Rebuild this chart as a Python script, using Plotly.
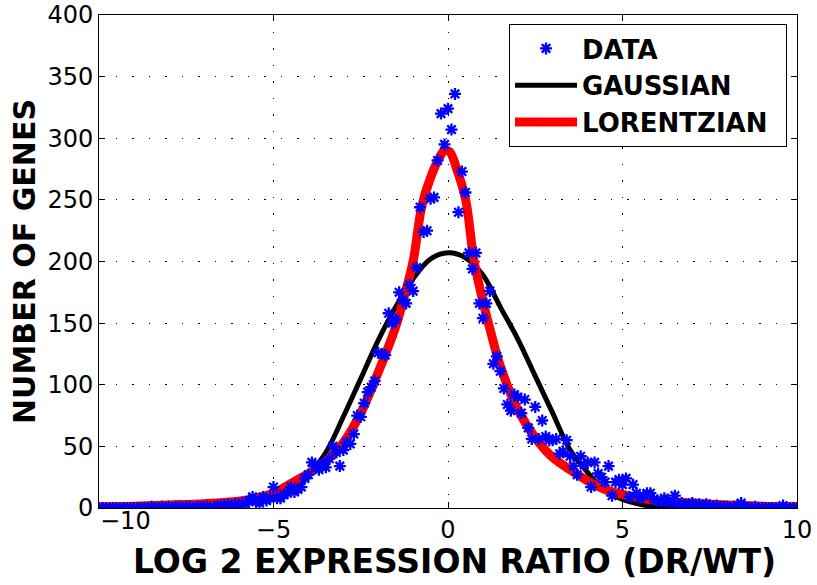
import numpy as np
import plotly.graph_objects as go

# ---- data ----
data_x = [round(v / 10, 1) for v in range(-100, 101)]
data_y = [
    0, 0, 0, 0, 0, 0, 0, 0, 0, 0,          # -10.0 .. -9.1
    0, 0, 0, 0, 0, 1, 0, 0, 1, 0,          # -9.0 .. -8.1
    1, 0, 1, 1, 0, 1, 1, 0, 1, 1,          # -8.0 .. -7.1
    1, 1, 0, 1, 2, 2, 1, 3, 2, 3,          # -7.0 .. -6.1
    2, 4, 3, 6, 9, 5, 4, 9, 6, 8,          # -6.0 .. -5.1
    17, 8, 8, 11, 12, 17, 13, 15, 17, 24,  # -5.0 .. -4.1
    27, 37, 34, 31, 36, 33, 40, 50, 45, 34,  # -4.0 .. -3.1
    47, 53, 52, 60, 75, 74, 85, 94, 98, 103,  # -3.0 .. -2.1
    126, 125, 124, 158, 150, 153, 175, 169, 166, 181,  # -2.0 .. -1.1
    176, 195, 244, 224, 225, 251, 252, 282, 320, 295,  # -1.0 .. -0.1
    324, 307, 336, 240, 273, 256, 207, 194, 207, 166,  # 0.0 .. 0.9
    154, 166, 176, 117, 123, 111, 97, 84, 79, 92,      # 1.0 .. 1.9
    90, 77, 88, 65, 56, 82, 56, 71, 58, 55,            # 2.0 .. 2.9
    55, 56, 44, 46, 55, 42, 34, 27, 42, 35,            # 3.0 .. 3.9
    37, 17, 37, 28, 25, 21, 34, 10, 21, 23,            # 4.0 .. 4.9
    19, 24, 9, 19, 12, 8, 10, 12, 12, 7,               # 5.0 .. 5.9
    6, 5, 8, 5, 4, 10, 3, 4, 2, 3,                     # 6.0 .. 6.9
    4, 2, 3, 1, 3, 2, 1, 2, 0, 1,                      # 7.0 .. 7.9
    1, 0, 1, 2, 4, 1, 0, 0, 1, 0,                      # 8.0 .. 8.9
    0, 0, 0, 0, 0, 0, 2, 0, 0, 0,                      # 9.0 .. 9.9
    0,                                                 # 10.0
]

gauss_x = [-10, -9.5, -9, -8.5, -8, -7.5, -7, -6.5, -6, -5.5, -5, -4.5, -4, -3.5, -3,
           -2.5, -2, -1.5, -1, -0.5, 0, 0.5, 1, 1.5, 2, 2.5, 3, 3.5, 4, 4.5, 5, 5.5,
           6, 6.5, 7, 7.5, 8, 8.5, 9, 9.5, 10]
gauss_y = [0, 0, 0, 0, 0.2, 0.4, 1, 2, 3.5, 6, 7, 14, 27, 45, 74,
           105, 136, 163, 186, 202, 207, 203, 189, 163, 137, 107, 77, 47, 29, 14, 7, 3,
           1, 0.3, 0, 0, 0, 0, 0, 0, 0]

lor_x = [-10, -9, -8, -7, -6, -5.5, -5, -4.5, -4, -3.5, -3, -2.5, -2, -1.5, -1.25, -1,
         -0.75, -0.5, -0.25, -0.1, 0.05, 0.25, 0.5, 0.75, 1, 1.25, 1.5, 2, 2.5, 3, 3.5,
         4, 4.5, 5, 5.5, 6, 7, 8, 9, 10]
lor_y = [1, 1.5, 2.5, 3.5, 5.5, 8, 12, 20, 28, 38, 53, 77, 110, 147, 172, 200,
         245, 268, 284, 290, 289, 275, 251, 200, 168, 140, 115, 80, 57, 41, 31,
         22, 15, 11, 8, 6, 4, 2.5, 1.5, 1]

x_ticks = [-10, -5, 0, 5, 10]
x_tick_text = ["", "\u22125", "0", "5", "10"]
first_x_label = "\u221210"
y_ticks = [0, 50, 100, 150, 200, 250, 300, 350, 400]

X_TITLE = "LOG 2 EXPRESSION RATIO (DR/WT)"
Y_TITLE = "NUMBER OF GENES"

FONT = "DejaVu Sans, Arial, sans-serif"
PAD = "\u2002"

fig = go.Figure()
fig.add_trace(go.Scatter(
    x=gauss_x, y=gauss_y, mode="lines", name="GAUSSIAN" + PAD, legendgroup="g",
    legendrank=2, line=dict(color="black", width=5, shape="spline"),
))
fig.add_trace(go.Scatter(
    x=lor_x, y=lor_y, mode="lines", name="LORENTZIAN" + PAD, legendgroup="l",
    legendrank=3, line=dict(color="#ff0000", width=9, shape="spline"),
))
fig.add_trace(go.Scatter(
    x=data_x, y=data_y, mode="markers", name="DATA" + PAD, legendgroup="d",
    legendrank=1,
    marker=dict(symbol="asterisk-open", size=10, color="#0000ff",
                line=dict(color="#0000ff", width=2.3)),
))

axis_common = dict(
    showline=True, linecolor="black", linewidth=1, mirror="ticks",
    ticks="inside", ticklen=6, tickcolor="black",
    showgrid=True, gridcolor="black", gridwidth=1, griddash="1.5px,15px",
    zeroline=False, automargin=False,
    tickfont=dict(family=FONT, size=24, color="black"),
)

fig.update_xaxes(range=[-10, 10], tickvals=x_ticks, ticktext=x_tick_text,
                 **axis_common)
fig.update_yaxes(
    range=[0, 400], tickvals=y_ticks,
    title=dict(text=Y_TITLE,
               font=dict(family=FONT, size=30, color="black", weight="bold"),
               standoff=2),
    **axis_common,
)

# first x tick label, set just right of the y axis as in the reference
fig.add_annotation(
    text=first_x_label, xref="x", yref="paper", x=x_ticks[0], y=-0.0264,
    xanchor="left", yanchor="middle", showarrow=False, xshift=-1,
    font=dict(family=FONT, size=24, color="black"),
)

fig.add_annotation(
    text=X_TITLE, xref="paper", yref="paper", x=0.51, y=-0.108,
    xanchor="center", yanchor="middle", showarrow=False,
    font=dict(family=FONT, size=33, color="black", weight="bold"),
)

fig.update_layout(
    width=817, height=585,
    margin=dict(l=99, r=20, t=15, b=77),
    paper_bgcolor="white", plot_bgcolor="white",
    legend=dict(
        x=0.9857, y=0.9817, xanchor="right", yanchor="top",
        bgcolor="white", bordercolor="black", borderwidth=1,
        font=dict(family=FONT, size=26, color="black", weight="bold"),
        itemwidth=62, tracegroupgap=0, traceorder="normal",
    ),
)

fig.write_html("out.html", config={"displayModeBar": False},
               post_script="document.body.style.margin='0px';")
